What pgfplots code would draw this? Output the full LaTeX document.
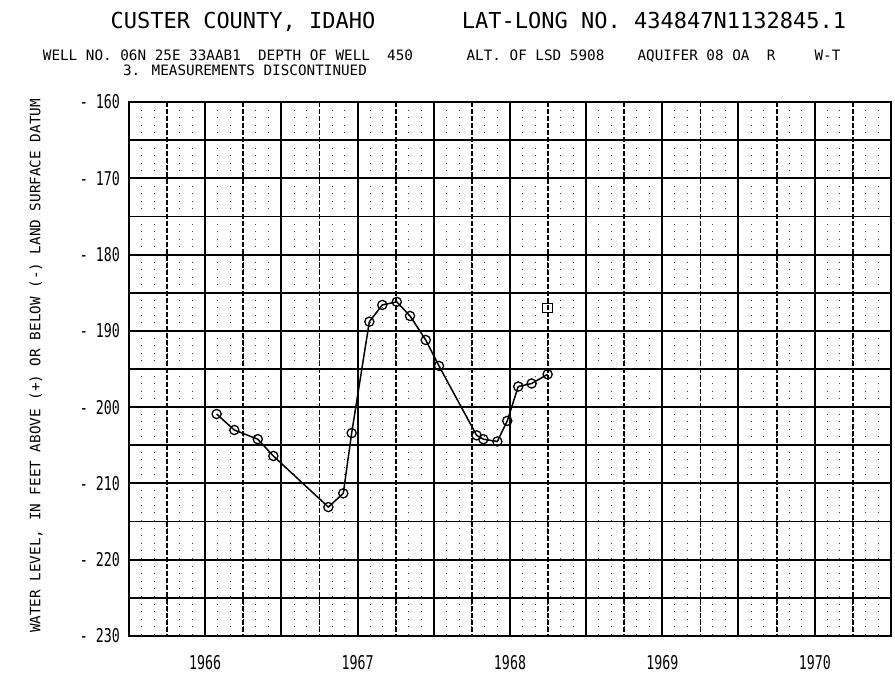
\documentclass[border=0pt]{standalone}
\usepackage{pgfplots}
\pgfplotsset{compat=1.18}
\usepackage{fontspec}
\setmainfont{DejaVu Sans Mono}
\newfontfamily\plotfont{DejaVu Sans Mono}
\newfontfamily\tickfont{DejaVu Sans Mono}[FakeStretch=0.7]
\begin{document}
\begin{tikzpicture}
\useasboundingbox (0,0) rectangle (895pt,674pt);
% fine dotted texture of the chart paper
\begin{axis}[at={(510pt,305pt)}, anchor=center, scale only axis,
  width=762pt, height=534pt,
  xmin=1966, xmax=1971, ymin=160, ymax=230, y dir=reverse,
  xtick={1966.0833,1966.1667,...,1971}, ytick={160,170,...,230},
  xmajorgrids=true, ymajorgrids=false,
  major grid style={black!75, line width=1pt, dash pattern=on 1pt off 6.6pt},
  xticklabels={}, yticklabels={},
  axis line style={draw=none}, major tick length=0pt]
\end{axis}
\begin{axis}[at={(510pt,305pt)}, anchor=center, scale only axis,
  width=762pt, height=534pt,
  xmin=1966, xmax=1971, ymin=160, ymax=230, y dir=reverse,
  xtick={1966,1966.5,...,1971}, minor xtick={1966.25,1966.75,...,1970.75},
  ytick={160,170,...,230}, minor ytick={165,175,...,225},
  xticklabels={},
  extra x ticks={1966.5,1967.5,1968.5,1969.5,1970.5},
  extra x tick labels={1966,1967,1968,1969,1970},
  extra x tick style={grid=none},
  grid=both,
  major x grid style={black, line width=2pt},
  minor x grid style={black, line width=1.6pt, dash pattern=on 5pt off 2pt},
  major y grid style={black, line width=2pt},
  minor y grid style={black, line width=1.8pt},
  axis line style={line width=2.2pt},
  major tick length=0pt, minor tick length=0pt,
  /pgf/number format/assume math mode=true,
  yticklabel={-\hspace{8pt}\pgfmathprintnumber{\tick}},
  yticklabel style={font=\tickfont\fontsize{19}{19}\selectfont, inner sep=0pt, xshift=-9pt},
  xticklabel style={font=\tickfont\fontsize{19}{19}\selectfont, inner sep=0pt, anchor=north, yshift=-19pt},
  clip=false]
\addplot[black, line width=1.5pt, mark=o, mark size=4.6pt,
  mark options={fill=white, line width=1.3pt}] coordinates {
  (1966.575,200.9) (1966.691,203.0) (1966.845,204.2) (1966.947,206.4)
  (1967.308,213.1) (1967.406,211.3) (1967.461,203.4) (1967.577,188.8)
  (1967.662,186.6) (1967.757,186.2) (1967.844,188.05) (1967.947,191.2)
  (1968.034,194.6) (1968.281,203.7) (1968.325,204.2) (1968.417,204.5)
  (1968.482,201.8) (1968.554,197.3) (1968.642,196.9) (1968.747,195.7)
};
\addplot[black, only marks, mark=square, mark size=4.8pt,
  mark options={fill=white, line width=1.3pt}] coordinates {(1968.747,187.0)};
\end{axis}
\node[font=\plotfont\fontsize{22}{22}\selectfont, anchor=base, inner sep=0pt] at (243pt,645pt) {CUSTER COUNTY, IDAHO};
\node[font=\plotfont\fontsize{22}{22}\selectfont, anchor=base, inner sep=0pt] at (654pt,645pt) {LAT-LONG NO. 434847N1132845.1};
\node[font=\plotfont\fontsize{14.3}{14.3}\selectfont, anchor=base, inner sep=0pt] at (228pt,613pt) {WELL NO. 06N 25E 33AAB1\ \ DEPTH OF WELL\ \ 450};
\node[font=\plotfont\fontsize{14.3}{14.3}\selectfont, anchor=base, inner sep=0pt] at (245pt,598pt) {3. MEASUREMENTS DISCONTINUED};
\node[font=\plotfont\fontsize{14.3}{14.3}\selectfont, anchor=base, inner sep=0pt] at (535.5pt,613pt) {ALT. OF LSD 5908};
\node[font=\plotfont\fontsize{14.3}{14.3}\selectfont, anchor=base, inner sep=0pt] at (706.5pt,613pt) {AQUIFER 08 OA\ \ R};
\node[font=\plotfont\fontsize{14.3}{14.3}\selectfont, anchor=base, inner sep=0pt] at (827.5pt,613pt) {W-T};
\node[font=\plotfont\fontsize{14.3}{14.3}\selectfont, rotate=90, inner sep=0pt] at (36pt,308pt) {WATER LEVEL, IN FEET ABOVE (+) OR BELOW (-) LAND SURFACE DATUM};
\end{tikzpicture}
\end{document}
